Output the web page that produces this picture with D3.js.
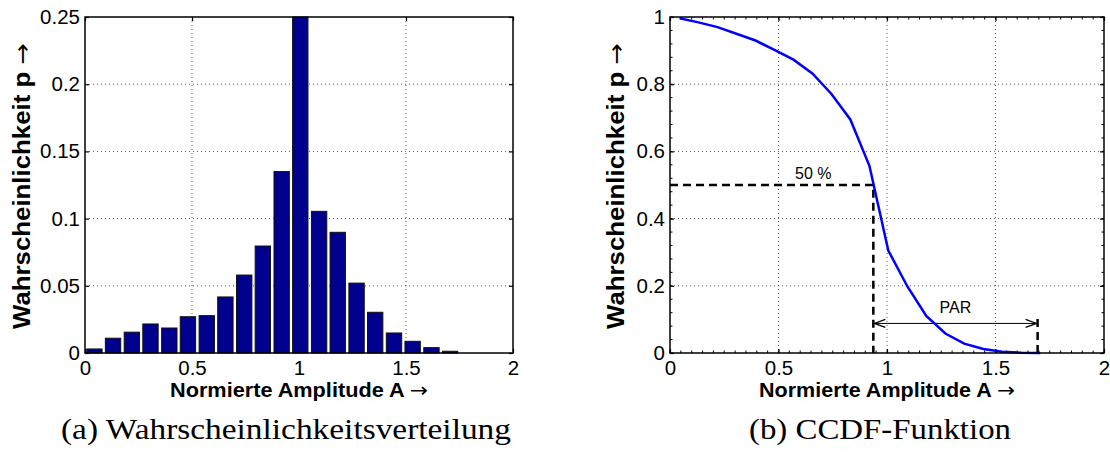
<!DOCTYPE html>
<html><head><meta charset="utf-8">
<script src="https://cdn.jsdelivr.net/npm/d3@7"></script>
<style>body{margin:0;background:#fff}svg{display:block}</style>
</head><body>
<svg id="c" width="1110" height="452"></svg>
<script>
// ---- data ----
const binCenters = [0.044,0.131,0.219,0.306,0.394,0.481,0.569,0.656,0.744,0.831,0.919,1.006,1.094,1.181,1.269,1.356,1.444,1.531,1.619,1.706];
const probValues = [0.003,0.011,0.0155,0.0216,0.0186,0.027,0.0278,0.0417,0.058,0.0796,0.135,0.25,0.1054,0.0898,0.052,0.0303,0.0149,0.0087,0.004,0.0013];
const ccdfValues = [0.996,0.984,0.97,0.95,0.93,0.902,0.873,0.832,0.771,0.695,0.557,0.305,0.198,0.11,0.058,0.028,0.012,0.004,0.001,0.0];
const xTicks = [0,0.5,1,1.5,2];
const xTickLabels = ["0","0.5","1","1.5","2"];
const yTicksLeft = [0,0.05,0.1,0.15,0.2,0.25];
const yTickLabelsLeft = ["0","0.05","0.1","0.15","0.2","0.25"];
const yTicksRight = [0,0.2,0.4,0.6,0.8,1];
const yTickLabelsRight = ["0","0.2","0.4","0.6","0.8","1"];
const medianAmp = 0.937, medianP = 0.5;
const parStart = 0.937, parEnd = 1.694, parArrowP = 0.088, parLineTop = 0.11;
const xTitle = "Normierte Amplitude A ";
const yTitle = "Wahrscheinlichkeit p ";
const arrow = "\u2192";
const captions = ["(a) Wahrscheinlichkeitsverteilung", "(b) CCDF-Funktion"];

const svg = d3.select("#c");
const SANS = "'Liberation Sans', Arial, Helvetica, sans-serif";
const SERIF = "'Liberation Serif', 'DejaVu Serif', serif";
const pTop = 17, pBottom = 353;

function title(sel, txt, size, len) {
  sel.attr("text-anchor","middle").attr("font-family",SANS).attr("font-size",size).attr("fill","#000")
     .attr("textLength",len).attr("lengthAdjust","spacingAndGlyphs");
  sel.append("tspan").attr("font-weight","bold").text(txt);
  sel.append("tspan").attr("font-family","'DejaVu Sans', sans-serif").text(arrow);
}

function panel(x0, x1, yDomainMax, yTicks, yLabels, minor, yTitleX, xTitleLen) {
  const g = svg.append("g");
  const x = d3.scaleLinear().domain([0,2]).range([x0,x1]);
  const y = d3.scaleLinear().domain([0,yDomainMax]).range([pBottom,pTop]);
  const grid = g.append("g");
  xTicks.slice(1,-1).forEach(t => grid.append("line").attr("x1",x(t)).attr("x2",x(t)).attr("y1",pTop).attr("y2",pBottom)
     .attr("stroke","#555").attr("stroke-width",1).attr("stroke-dasharray","1,3"));
  yTicks.slice(1,-1).forEach(t => grid.append("line").attr("x1",x0).attr("x2",x1).attr("y1",y(t)).attr("y2",y(t))
     .attr("stroke","#555").attr("stroke-width",1).attr("stroke-dasharray","1,3"));
  const ax = g.append("g").attr("transform",`translate(0,${pBottom})`)
    .call(d3.axisBottom(x).tickValues(xTicks).tickFormat((d,i)=>xTickLabels[i]).tickSizeInner(-4).tickSizeOuter(0).tickPadding(7));
  const ay = g.append("g").attr("transform",`translate(${x0},0)`)
    .call(d3.axisLeft(y).tickValues(yTicks).tickFormat((d,i)=>yLabels[i]).tickSizeInner(-4).tickSizeOuter(0).tickPadding(5));
  const at = g.append("g").attr("transform",`translate(0,${pTop})`)
    .call(d3.axisTop(x).tickValues(xTicks).tickFormat("").tickSizeInner(-4).tickSizeOuter(0));
  const ar = g.append("g").attr("transform",`translate(${x1},0)`)
    .call(d3.axisRight(y).tickValues(yTicks).tickFormat("").tickSizeInner(-4).tickSizeOuter(0));
  [ax,ay,at,ar].forEach(a=>{a.select(".domain").remove(); a.selectAll("line").attr("stroke","#000").attr("stroke-width",1.2);
     a.selectAll("text").attr("font-family",SANS).attr("font-size",20.5).attr("fill","#000");});
  ax.selectAll("text").attr("dy","0.71em");
  if (minor) {
    const mx = d3.range(0,2.0001,0.05), my = d3.range(0,yDomainMax+1e-6,yDomainMax/25);
    const mg = g.append("g").attr("stroke","#000").attr("stroke-width",1);
    mx.forEach(t=>{ mg.append("line").attr("x1",x(t)).attr("x2",x(t)).attr("y1",pBottom).attr("y2",pBottom-2.5);
                    mg.append("line").attr("x1",x(t)).attr("x2",x(t)).attr("y1",pTop).attr("y2",pTop+2.5);});
    my.forEach(t=>{ mg.append("line").attr("x1",x0).attr("x2",x0+2.5).attr("y1",y(t)).attr("y2",y(t));
                    mg.append("line").attr("x1",x1).attr("x2",x1-2.5).attr("y1",y(t)).attr("y2",y(t));});
  }
  title(g.append("text").attr("x",(x0+x1)/2).attr("y",397), xTitle, 20, xTitleLen);
  title(g.append("text").attr("transform",`translate(${yTitleX},${(pTop+pBottom)/2+1}) rotate(-90)`), yTitle, 23, 286);
  return {g,x,y,x0,x1};
}

// ---- left panel ----
const L = panel(85, 513, 0.25, yTicksLeft, yTickLabelsLeft, false, 30, 258);
const bw = (L.x(0.0875)-L.x(0)) * 0.82;
L.g.append("g").selectAll("rect").data(binCenters).join("rect")
  .attr("x", d => L.x(d) - bw/2).attr("width", bw)
  .attr("y", (d,i) => L.y(Math.min(probValues[i],0.25))).attr("height",(d,i)=> pBottom - L.y(Math.min(probValues[i],0.25)))
  .attr("fill","#00008f").attr("stroke","#111").attr("stroke-width",1);
L.g.append("rect").attr("x",85).attr("y",pTop).attr("width",513-85).attr("height",pBottom-pTop)
  .attr("fill","none").attr("stroke","#000").attr("stroke-width",1.5);

// ---- right panel ----
const R = panel(670, 1104, 1, yTicksRight, yTickLabelsRight, true, 624, 256);
const ann = R.g.append("g");
ann.append("path").attr("d", d3.line()([[R.x(0),R.y(medianP)],[R.x(medianAmp),R.y(medianP)],[R.x(medianAmp),R.y(0)]]))
  .attr("fill","none").attr("stroke","#000").attr("stroke-width",2.5).attr("stroke-dasharray","8,5");
ann.append("line").attr("x1",R.x(parEnd)).attr("x2",R.x(parEnd)).attr("y1",R.y(0)).attr("y2",R.y(parLineTop))
  .attr("stroke","#000").attr("stroke-width",2.5).attr("stroke-dasharray","8,5");
const ay0 = R.y(parArrowP), ax0 = R.x(parStart)+1, ax1 = R.x(parEnd)-1;
ann.append("line").attr("x1",ax0).attr("x2",ax1).attr("y1",ay0).attr("y2",ay0).attr("stroke","#000").attr("stroke-width",1);
ann.append("path").attr("d",`M${ax0+11},${ay0-4}L${ax0},${ay0}L${ax0+11},${ay0+4}`).attr("fill","none").attr("stroke","#000").attr("stroke-width",1.2);
ann.append("path").attr("d",`M${ax1-11},${ay0-4}L${ax1},${ay0}L${ax1-11},${ay0+4}`).attr("fill","none").attr("stroke","#000").attr("stroke-width",1.2);
ann.append("text").attr("x",R.x((parStart+parEnd)/2)).attr("y",ay0-10).attr("text-anchor","middle")
  .attr("font-family",SANS).attr("font-size",16).text("PAR");
ann.append("text").attr("x",R.x(0.66)).attr("y",R.y(medianP)-6).attr("text-anchor","middle")
  .attr("font-family",SANS).attr("font-size",16).text("50 %");
R.g.append("path").datum(binCenters.map((d,i)=>[d,ccdfValues[i]]))
  .attr("d", d3.line().x(d=>R.x(d[0])).y(d=>R.y(d[1])))
  .attr("fill","none").attr("stroke","#0000ff").attr("stroke-width",2.5);
R.g.append("rect").attr("x",670).attr("y",pTop).attr("width",1104-670).attr("height",pBottom-pTop)
  .attr("fill","none").attr("stroke","#000").attr("stroke-width",1.5);

// ---- captions ----
svg.append("text").attr("x",286).attr("y",439).attr("text-anchor","middle").attr("font-family",SERIF)
  .attr("font-size",30).attr("textLength",450).attr("lengthAdjust","spacingAndGlyphs").text(captions[0]);
svg.append("text").attr("x",880).attr("y",439).attr("text-anchor","middle").attr("font-family",SERIF)
  .attr("font-size",30).attr("textLength",262).attr("lengthAdjust","spacingAndGlyphs").text(captions[1]);
</script>
</body></html>
